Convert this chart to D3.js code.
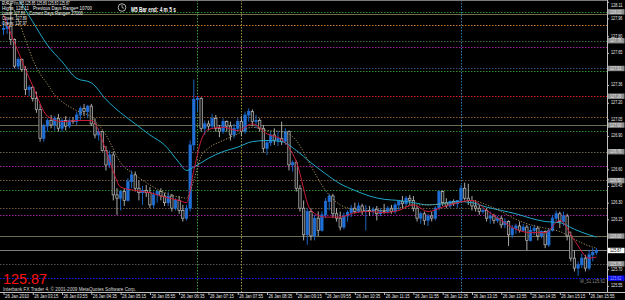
<!DOCTYPE html>
<html>
<head>
<meta charset="utf-8">
<script src="https://cdn.jsdelivr.net/npm/d3@7"></script>
<style>
  html, body { margin: 0; padding: 0; background: #000; }
  svg { display: block; }
  text { font-family: 'Liberation Sans', Arial, sans-serif; }
</style>
</head>
<body>
<div id="vis"></div>
<script>
// EURJPYm M5 bars, 26 Jan 2010 02:35 .. 16:05  [open, high, low, close]
var ohlc = [
  [127.86,127.93,127.81,127.87],[127.87,127.95,127.82,127.89],[127.89,128.10,127.72,127.77],[127.77,127.78,127.51,127.53],
  [127.53,127.61,127.50,127.59],[127.59,127.60,127.48,127.50],[127.50,127.53,127.27,127.32],[127.32,127.36,127.26,127.34],
  [127.34,127.35,127.21,127.24],[127.24,127.30,127.11,127.14],[127.14,127.19,126.85,126.88],[126.88,127.01,126.85,126.99],
  [126.99,127.06,126.94,127.04],[127.04,127.09,126.97,127.00],[127.00,127.08,126.95,127.06],[127.06,127.10,126.94,126.97],
  [126.97,127.06,126.94,127.04],[127.04,127.08,126.95,126.99],[126.99,127.06,126.97,127.04],[127.04,127.07,127.01,127.03],
  [127.03,127.12,127.00,127.09],[127.09,127.17,127.04,127.15],[127.15,127.19,127.08,127.12],[127.12,127.18,127.06,127.17],
  [127.17,127.19,126.99,127.01],[127.01,127.06,126.88,126.91],[126.91,126.97,126.86,126.94],[126.94,126.95,126.76,126.77],
  [126.77,126.81,126.59,126.64],[126.64,126.77,126.61,126.73],[126.73,126.76,126.32,126.37],[126.37,126.43,126.19,126.34],
  [126.34,126.41,126.23,126.40],[126.40,126.43,126.27,126.32],[126.32,126.52,126.31,126.49],[126.49,126.59,126.43,126.55],
  [126.55,126.58,126.40,126.43],[126.43,126.50,126.32,126.39],[126.39,126.45,126.28,126.41],[126.41,126.46,126.35,126.39],
  [126.39,126.44,126.25,126.28],[126.28,126.40,126.25,126.37],[126.37,126.41,126.30,126.40],[126.40,126.43,126.32,126.36],
  [126.36,126.39,126.27,126.30],[126.30,126.40,126.27,126.36],[126.36,126.38,126.22,126.25],[126.25,126.34,126.23,126.32],
  [126.32,126.36,126.20,126.23],[126.23,126.28,126.13,126.16],[126.16,126.28,126.14,126.25],[126.25,126.86,126.22,126.82],
  [126.82,127.41,126.77,127.23],[127.23,127.26,127.12,127.24],[127.24,127.25,126.94,126.97],[126.97,127.04,126.91,127.01],
  [127.01,127.04,126.95,126.99],[126.99,127.10,126.97,127.06],[127.06,127.09,126.94,126.97],[126.97,127.00,126.89,126.94],
  [126.94,127.06,126.92,127.03],[127.03,127.04,126.94,126.99],[126.99,127.03,126.86,126.91],[126.91,127.01,126.88,126.97],
  [126.97,127.06,126.94,127.03],[127.03,127.08,126.90,126.94],[126.94,127.12,126.92,127.09],[127.09,127.15,127.03,127.12],
  [127.12,127.14,126.99,127.03],[127.03,127.09,126.97,127.04],[127.04,127.06,126.94,126.97],[126.97,127.00,126.75,126.79],
  [126.79,126.86,126.73,126.84],[126.84,126.94,126.81,126.91],[126.91,126.97,126.82,126.86],[126.86,126.95,126.81,126.88],
  [126.88,127.03,126.82,126.85],[126.85,126.97,126.82,126.94],[126.94,126.95,126.59,126.64],[126.64,126.68,126.58,126.66],
  [126.66,126.68,126.40,126.43],[126.43,126.46,126.22,126.25],[126.25,126.32,125.96,126.01],[126.01,126.25,125.92,126.22],
  [126.22,126.25,125.96,126.00],[126.00,126.19,125.96,126.16],[126.16,126.22,126.00,126.05],[126.05,126.22,126.04,126.19],
  [126.19,126.34,126.16,126.31],[126.31,126.38,126.23,126.36],[126.36,126.38,126.16,126.20],[126.20,126.25,126.13,126.16],
  [126.16,126.22,126.05,126.08],[126.08,126.21,126.06,126.18],[126.18,126.23,126.13,126.21],[126.21,126.28,126.17,126.25],
  [126.25,126.30,126.20,126.22],[126.22,126.30,126.21,126.27],[126.27,126.29,126.19,126.22],[126.22,126.28,126.05,126.23],
  [126.23,126.27,126.18,126.22],[126.22,126.26,126.19,126.24],[126.24,126.27,126.14,126.20],[126.20,126.25,126.18,126.23],
  [126.23,126.29,126.20,126.22],[126.22,126.27,126.20,126.25],[126.25,126.28,126.20,126.22],[126.22,126.30,126.20,126.28],
  [126.28,126.32,126.23,126.31],[126.31,126.36,126.25,126.29],[126.29,126.36,126.27,126.34],[126.34,126.37,126.28,126.32],
  [126.32,126.36,126.22,126.25],[126.25,126.27,126.13,126.16],[126.16,126.22,126.11,126.20],[126.20,126.22,126.10,126.14],
  [126.14,126.20,126.09,126.18],[126.18,126.22,126.13,126.16],[126.16,126.27,126.14,126.25],[126.25,126.41,126.23,126.40],
  [126.40,126.41,126.27,126.30],[126.30,126.34,126.25,126.27],[126.27,126.32,126.25,126.31],[126.31,126.33,126.27,126.29],
  [126.29,126.32,126.25,126.32],[126.32,126.46,126.30,126.43],[126.43,126.48,126.32,126.34],[126.34,126.47,126.28,126.32],
  [126.32,126.36,126.23,126.27],[126.27,126.32,126.22,126.25],[126.25,126.28,126.19,126.22],[126.22,126.25,126.20,126.23],
  [126.23,126.25,126.13,126.16],[126.16,126.22,126.11,126.18],[126.18,126.20,126.11,126.14],[126.14,126.18,126.12,126.16],
  [126.16,126.18,126.07,126.10],[126.10,126.16,126.07,126.13],[126.13,126.14,125.91,126.01],[126.01,126.10,125.98,126.07],
  [126.07,126.11,126.02,126.09],[126.09,126.13,126.03,126.05],[126.05,126.11,126.04,126.08],[126.08,126.10,125.87,125.96],
  [125.96,126.09,125.95,126.05],[126.05,126.10,126.01,126.07],[126.07,126.09,125.96,126.00],[126.00,126.05,125.98,126.04],
  [126.04,126.05,125.89,125.92],[125.92,126.07,125.90,126.05],[126.05,126.19,126.04,126.16],[126.16,126.23,126.13,126.20],
  [126.20,126.22,126.07,126.13],[126.13,126.22,126.09,126.18],[126.18,126.20,125.96,126.00],[126.00,126.04,125.77,125.80],
  [125.80,125.87,125.68,125.71],[125.71,125.77,125.64,125.74],[125.74,125.84,125.71,125.80],[125.80,125.83,125.68,125.71],
  [125.71,125.87,125.69,125.83],[125.83,125.89,125.77,125.85],[125.85,125.89,125.83,125.87]
];

// moving averages as [bar, price]
var maFast = [[0,127.99],[4,127.66],[8,127.35],[12,127.08],[16,127.03],[20,127.04],[24,127.04],[28,126.77],[30,126.58],
  [32,126.44],[36,126.41],[40,126.39],[44,126.35],[48,126.32],[50,126.30],[52,126.59],[54,126.86],[56,126.96],[60,126.98],
  [64,126.95],[68,127.01],[72,126.92],[76,126.87],[80,126.67],[84,126.23],[88,126.17],[92,126.17],[96,126.21],[100,126.22],
  [104,126.21],[108,126.23],[112,126.28],[116,126.22],[120,126.26],[124,126.30],[128,126.32],[132,126.23],[136,126.14],
  [140,126.06],[144,126.03],[148,126.03],[152,126.14],[156,125.96],[160,125.80],[162,125.81]];
var maMid = [[0,128.11],[2,128.08],[4,127.95],[6,127.77],[8,127.59],[10,127.46],[12,127.37],[14,127.27],[16,127.21],
  [20,127.13],[24,127.07],[28,126.91],[32,126.66],[36,126.55],[40,126.46],[44,126.39],[48,126.35],[50,126.34],[52,126.50],
  [54,126.72],[56,126.79],[60,126.86],[64,126.92],[68,126.98],[72,126.95],[76,126.94],[80,126.86],[84,126.63],[88,126.41],
  [92,126.28],[96,126.24],[100,126.23],[104,126.23],[108,126.25],[112,126.28],[116,126.28],[120,126.29],[124,126.30],
  [128,126.32],[132,126.28],[136,126.22],[140,126.15],[144,126.10],[148,126.07],[152,126.04],[156,125.97],[160,125.91],[162,125.89]];
var maSlow = [[0,128.35],[4,128.14],[8,127.93],[12,127.72],[16,127.57],[20,127.42],[24,127.38],[28,127.23],[32,127.11],
  [36,127.01],[40,126.91],[44,126.82],[48,126.66],[50,126.59],[52,126.62],[56,126.70],[60,126.76],[64,126.80],[68,126.85],
  [72,126.86],[76,126.85],[80,126.77],[84,126.66],[88,126.56],[92,126.47],[96,126.41],[100,126.36],[104,126.33],[108,126.32],
  [112,126.30],[116,126.28],[120,126.29],[124,126.31],[128,126.30],[132,126.26],[136,126.23],[140,126.20],[144,126.16],
  [148,126.13],[152,126.12],[156,126.06],[160,126.01],[162,125.99]];

var timeLabels = ['26 Jan 2010','26 Jan 03:15','26 Jan 03:55','26 Jan 04:35','26 Jan 05:15','26 Jan 05:55',
  '26 Jan 06:35','26 Jan 07:15','26 Jan 07:55','26 Jan 08:35','26 Jan 09:15','26 Jan 09:55','26 Jan 10:35',
  '26 Jan 11:15','26 Jan 11:55','26 Jan 12:35','26 Jan 13:15','26 Jan 13:55','26 Jan 14:35','26 Jan 15:15','26 Jan 15:55'];
// scale labels that are not hidden behind a level box
var priceTicks = [128.11,127.96,127.80,127.65,127.36,127.20,127.05,126.90,126.60,126.45,126.30,126.15,125.70,125.55];

// indicator levels
var levelPrices = [128.02,127.90,127.76,127.70,127.51,127.49,127.26,127.07,126.95,126.76,126.63,126.50,126.41,126.25,
  126.19,125.75,125.62];
var roundLevels = [128.00,127.00,126.00];
var boxedLevels = [128.02,127.76,127.51,127.26,127.00,126.76,126.50,126.00,125.75];
var weeklyS1 = 125.62;
var sessionBars = [53, 65, 125];   // 07:00, 08:00, 13:00

var info = {
  symbol: 'EURJPYm,M5  125.85 125.89 125.83 125.87',
  highs: 'Highs: 128.11', prevRange: 'Previous Days Range= 10700',
  lows: 'Lows= 127.86', curRange: 'Current Days Range= 27000',
  closes: 'Closes: 127.89', opens: 'Opens: 127.97',
  barEnd: 'M5 Bar end: 4 m 5 s'
};

var width = 625;
var height = 300;
var plotRight = 607;
var plotBottom = 292;

// squeeze a text horizontally so it spans w pixels from its x
function fitText(sel, w) {
  sel.each(function() {
    var len = this.getComputedTextLength();
    if (!len) return;
    var s = w / len;
    var ax = +this.getAttribute('x') || 0;
    d3.select(this).attr('transform', `translate(${ax},0) scale(${s},1) translate(${-ax},0)`);
  });
}

var svg = d3.select('#vis').append('svg')
  .attr('width', width).attr('height', height)
  .style('background', '#000');

var x = d3.scaleLinear().domain([0, ohlc.length - 1]).range([3.5, 596.4]);
var y = d3.scaleLinear().domain([125.513, 128.126]).range([290, 0]);

svg.append('clipPath').attr('id', 'plot-clip')
  .append('rect').attr('x', 0).attr('y', 0).attr('width', plotRight).attr('height', plotBottom);

var plot = svg.append('g').attr('clip-path', 'url(#plot-clip)');

// top frame line
svg.append('line').attr('x1', 0).attr('x2', plotRight).attr('y1', 0.5).attr('y2', 0.5)
  .style('stroke', '#7a7a7a');

// dotted indicator levels
var levelColors = ['#2e8b2e','#c8782a','#46644a','#a020a0','#3c4c80','#2e8b2e','#d42020','#8c5a2a','#2e8b2e',
  '#6e6458','#a020a0','#7a5a3a','#2e8b2e','#6a5a4a','#a020a0','#505050','#1a1aff'];
plot.selectAll('line.level')
  .data(levelPrices)
  .enter()
  .append('line')
  .attr('class', 'level')
  .attr('x1', 0).attr('x2', plotRight)
  .attr('y1', d => Math.round(y(d)) + 0.5)
  .attr('y2', d => Math.round(y(d)) + 0.5)
  .style('stroke', (d, i) => levelColors[i])
  .style('stroke-dasharray', '1.5,1.5');

plot.selectAll('line.round')
  .data(roundLevels)
  .enter()
  .append('line')
  .attr('class', 'round')
  .attr('x1', 0).attr('x2', plotRight)
  .attr('y1', d => Math.round(y(d)) + 0.5)
  .attr('y2', d => Math.round(y(d)) + 0.5)
  .style('stroke', '#6e6c4e');

// current bid line
var lastClose = ohlc[ohlc.length - 1][3];
plot.append('line')
  .attr('x1', 0).attr('x2', plotRight)
  .attr('y1', Math.round(y(lastClose)) + 0.5).attr('y2', Math.round(y(lastClose)) + 0.5)
  .style('stroke', '#7c7c7c');

// session separators
var sessionColors = ['#3c9a3c', '#9a9a3a', '#2a7ab0'];
plot.selectAll('line.session')
  .data(sessionBars)
  .enter()
  .append('line')
  .attr('class', 'session')
  .attr('x1', d => Math.round(x(d)) + 0.5).attr('x2', d => Math.round(x(d)) + 0.5)
  .attr('y1', 0).attr('y2', plotBottom)
  .style('stroke', (d, i) => sessionColors[i])
  .style('stroke-dasharray', '1.5,1.5');

// candles
var candles = plot.selectAll('g.bar')
  .data(ohlc)
  .enter()
  .append('g')
  .attr('class', 'bar');

function barColor(d) {
  return d[3] >= d[0] ? '#1f6fd6' : '#bdbdbd';
}

candles.append('line')
  .attr('x1', (d, i) => x(i)).attr('x2', (d, i) => x(i))
  .attr('y1', d => y(d[1])).attr('y2', d => y(d[2]))
  .style('stroke', barColor)
  .style('stroke-width', 0.9);

candles.append('rect')
  .attr('x', (d, i) => x(i) - 1.2)
  .attr('width', 2.4)
  .attr('y', d => y(Math.max(d[0], d[3])))
  .attr('height', d => Math.max(0.8, Math.abs(y(d[0]) - y(d[3]))))
  .style('fill', d => d[3] >= d[0] ? '#1f6fd6' : '#1a1a1a')
  .style('stroke', barColor)
  .style('stroke-width', 0.7);

// moving averages
var maLine = d3.line()
  .x(d => x(d[0]))
  .y(d => y(d[1]))
  .curve(d3.curveMonotoneX);

plot.append('path').datum(maSlow).attr('d', maLine)
  .style('fill', 'none').style('stroke', '#1fa8c8').style('stroke-width', 1);
plot.append('path').datum(maMid).attr('d', maLine)
  .style('fill', 'none').style('stroke', '#a8935c').style('stroke-width', 1)
  .style('stroke-dasharray', '1.2,1.6');
plot.append('path').datum(maFast).attr('d', maLine)
  .style('fill', 'none').style('stroke', '#cc1a3a').style('stroke-width', 1);

// axes
svg.append('line').attr('x1', plotRight + 0.5).attr('x2', plotRight + 0.5).attr('y1', 0).attr('y2', plotBottom + 1)
  .style('stroke', '#c0c0c0');
svg.append('line').attr('x1', 0).attr('x2', width).attr('y1', plotBottom + 0.5).attr('y2', plotBottom + 0.5)
  .style('stroke', '#c0c0c0');

var xAxis = d3.axisBottom(x)
  .tickValues(timeLabels.map((t, k) => k * 8))
  .tickSize(3)
  .tickFormat((d, k) => timeLabels[k]);

var gx = svg.append('g').attr('transform', `translate(0, ${plotBottom})`).call(xAxis);
gx.select('.domain').remove();
gx.selectAll('.tick line').style('stroke', '#c0c0c0');
gx.selectAll('.tick text')
  .attr('x', 1).attr('y', 6).attr('dy', null)
  .style('text-anchor', 'start')
  .style('font-size', '5px')
  .style('fill', '#e8e8e8')
  .call(fitText, 24);

var yAxis = d3.axisRight(y)
  .tickValues(priceTicks)
  .tickSize(2)
  .tickFormat(d3.format('.2f'));

var gy = svg.append('g').attr('transform', `translate(${plotRight}, 0)`).call(yAxis);
gy.select('.domain').remove();
gy.selectAll('.tick line').style('stroke', '#c0c0c0');
gy.selectAll('.tick text')
  .attr('x', 4)
  .attr('dy', '0.2em')
  .style('font-size', '4.6px')
  .style('fill', '#e8e8e8')
  .call(fitText, 11.5);
gy.selectAll('.tick').filter(d => d === priceTicks[0]).select('text').attr('dy', '0.95em');

// boxed price labels for the levels
function priceBox(price, fill, textColor) {
  var g = svg.append('g').attr('transform', `translate(${plotRight + 1}, ${y(price)})`);
  g.append('rect').attr('x', 0).attr('y', -2.6).attr('width', 16.5).attr('height', 5.4).style('fill', fill);
  g.append('text').attr('x', 2).attr('y', 0).attr('dy', '0.4em')
    .style('font-size', '4.6px').style('fill', textColor)
    .text(d3.format('.2f')(price))
    .call(fitText, 11.5);
}
boxedLevels.forEach(p => priceBox(p, '#8e8e8e', '#e6e6e6'));
priceBox(lastClose, '#ffffff', '#000000');
priceBox(weeklyS1, '#0a0aee', '#9aa0ff');

plot.append('text')
  .attr('x', 580).attr('y', y(weeklyS1) + 5)
  .style('font-size', '5px').style('fill', '#8a8a8a')
  .text('W_S1 ' + d3.format('.2f')(weeklyS1))
  .call(fitText, 25);

// info block, top left
var infoRows = [
  [info.symbol, 2, 5.5, 68, null],
  [info.highs, 2, 10.5, 27, [info.prevRange, 33, 59]],
  [info.lows, 2, 15.5, 23, [info.curRange, 29, 54]],
  [info.closes, 2, 20.5, 25, null],
  [info.opens, 2, 25.5, 25, null]
];
infoRows.forEach(r => {
  svg.append('text').attr('x', r[1]).attr('y', r[2])
    .style('font-size', '4.8px').style('fill', '#f0f0f0')
    .text(r[0])
    .call(fitText, r[3]);
  if (r[4]) {
    svg.append('text').attr('x', r[4][1]).attr('y', r[2])
      .style('font-size', '4.8px').style('fill', '#f0f0f0')
      .text(r[4][0])
      .call(fitText, r[4][2]);
  }
});

// bar countdown with a little clock
var clock = svg.append('g').attr('transform', 'translate(122, 7.5)');
clock.append('circle').attr('r', 3.8).style('fill', 'none').style('stroke', '#e0e0e0').style('stroke-width', 0.8);
clock.append('path').attr('d', 'M0,-2.6 L0,0 L2,0.8').style('fill', 'none').style('stroke', '#e0e0e0').style('stroke-width', 0.7);
svg.append('text').attr('x', 131).attr('y', 12)
  .style('font-size', '6.5px').style('font-weight', 'bold').style('fill', '#ffffff')
  .text(info.barEnd)
  .call(fitText, 45);

// big bid price and copyright
svg.append('text').attr('x', 3).attr('y', 284.5)
  .style('font-size', '15.5px').style('fill', '#ff1010')
  .text(d3.format('.2f')(lastClose))
  .call(fitText, 44);
svg.append('text').attr('x', 3).attr('y', 291.2)
  .style('font-size', '4.6px').style('fill', '#d8d8d8')
  .text('Interbank FX Trader 4, \u00a9 2001-2009 MetaQuotes Software Corp.')
  .call(fitText, 133);
</script>
</body>
</html>
